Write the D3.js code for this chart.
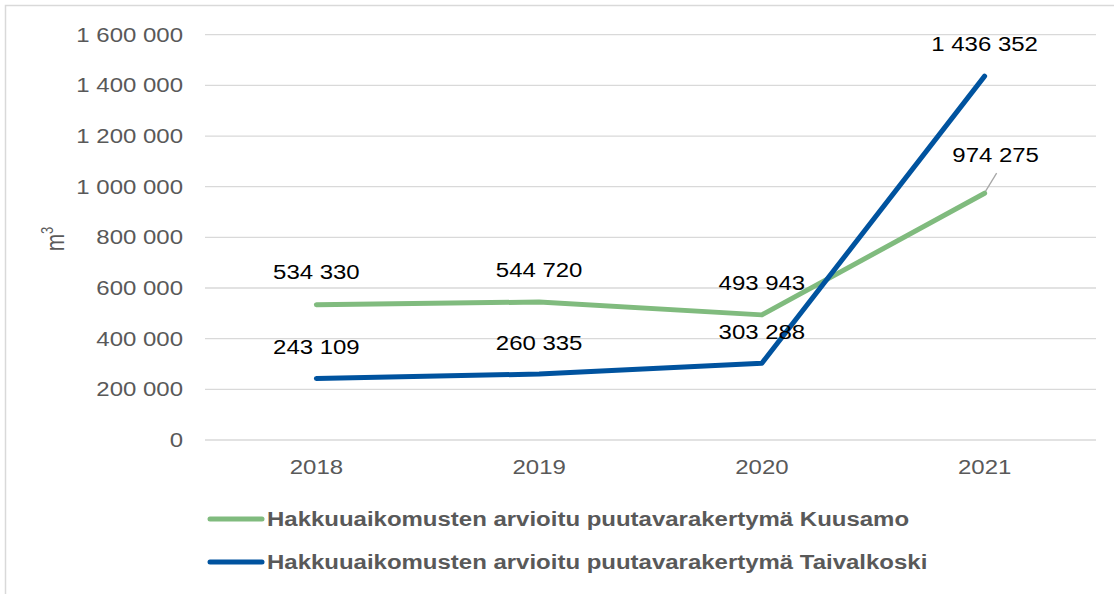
<!DOCTYPE html>
<html lang="fi">
<head>
<meta charset="UTF-8">
<script src="https://d3js.org/d3.v7.min.js"></script>
<style>
  body { margin: 0; background: #fff; }
  text { font-family: "Liberation Sans", Arial, sans-serif; }
</style>
</head>
<body>
<div id="chart"></div>
<script>
const years = ["2018", "2019", "2020", "2021"];
const kuusamo = [534330, 544720, 493943, 974275];
const taivalkoski = [243109, 260335, 303288, 1436352];
const yTicks = [0, 200000, 400000, 600000, 800000, 1000000, 1200000, 1400000, 1600000];
const seriesNames = [
  "Hakkuuaikomusten arvioitu puutavarakertymä Kuusamo",
  "Hakkuuaikomusten arvioitu puutavarakertymä Taivalkoski"
];

const width = 1114, height = 594;
const plot = { left: 205, right: 1096, top: 34.7, bottom: 440 };
const colors = ["#80bb7e", "#00539f"];
const sx = 1.23; // source image is stretched horizontally
const fs = 19.5;

const svg = d3.select("#chart").append("svg")
  .attr("width", width).attr("height", height);

// frame (only left/top visible)
svg.append("path")
  .attr("d", `M5.5,${height} V5.5 H${width}`)
  .attr("fill", "none").attr("stroke", "#d9d9d9").attr("stroke-width", 1.5);

const x = d3.scaleBand().domain(years).range([plot.left, plot.right]);
const y = d3.scaleLinear().domain([0, 1600000]).range([plot.bottom, plot.top]);
const fmt = v => d3.format(",")(v).replace(/,/g, " ");
const at = (px, py) => `translate(${px},${py}) scale(${sx},1)`;

// grid
svg.append("g").selectAll("line").data(yTicks).join("line")
  .attr("x1", plot.left).attr("x2", plot.right)
  .attr("y1", d => y(d)).attr("y2", d => y(d))
  .attr("stroke", "#d9d9d9").attr("stroke-width", 1.3);

// y tick labels
svg.append("g").selectAll("text").data(yTicks).join("text")
  .attr("transform", d => at(183, y(d))).attr("dy", "0.35em")
  .attr("text-anchor", "end").attr("font-size", fs).attr("fill", "#595959")
  .text(d => fmt(d));

// x labels
svg.append("g").selectAll("text").data(years).join("text")
  .attr("transform", d => at(x(d) + x.bandwidth() / 2, 467)).attr("dy", "0.35em")
  .attr("text-anchor", "middle").attr("font-size", fs).attr("fill", "#595959")
  .text(d => d);

// y axis title
const yt = svg.append("text")
  .attr("transform", "translate(64,239) rotate(-90) scale(1,1.22)")
  .attr("text-anchor", "middle").attr("font-size", 21).attr("fill", "#595959");
yt.append("tspan").text("m");
yt.append("tspan").attr("font-size", 13).attr("dy", -9).text("3");

const line = d3.line()
  .x((d, i) => x(years[i]) + x.bandwidth() / 2)
  .y(d => y(d));

const series = [kuusamo, taivalkoski];
series.forEach((s, k) => {
  svg.append("path").datum(s)
    .attr("d", line).attr("fill", "none")
    .attr("stroke", colors[k]).attr("stroke-width", 5)
    .attr("stroke-linecap", "round").attr("stroke-linejoin", "round");
});

// data labels
const cx = i => x(years[i]) + x.bandwidth() / 2;
const labels = [];
kuusamo.forEach((v, i) => {
  if (i < 3) labels.push({ x: cx(i), y: y(v) - 32, t: fmt(v) });
});
taivalkoski.forEach((v, i) => {
  if (i < 3) labels.push({ x: cx(i), y: y(v) - 31, t: fmt(v) });
});
labels.push({ x: cx(3), y: y(taivalkoski[3]) - 32, t: fmt(taivalkoski[3]) });
labels.push({ x: cx(3) + 11, y: y(kuusamo[3]) - 38, t: fmt(kuusamo[3]) });

svg.append("g").selectAll("text").data(labels).join("text")
  .attr("transform", d => at(d.x, d.y)).attr("dy", "0.35em")
  .attr("text-anchor", "middle").attr("font-size", fs).attr("fill", "#000")
  .text(d => d.t);

// leader line for 974 275
svg.append("line")
  .attr("x1", cx(3) + 1).attr("y1", y(kuusamo[3]) - 2)
  .attr("x2", cx(3) + 12).attr("y2", y(kuusamo[3]) - 20)
  .attr("stroke", "#a6a6a6").attr("stroke-width", 1.3);

// legend
const lg = svg.append("g").selectAll("g").data(seriesNames).join("g")
  .attr("transform", (d, i) => `translate(0,${519 + i * 43})`);
lg.append("line").attr("x1", 210).attr("x2", 262)
  .attr("stroke", (d, i) => colors[i]).attr("stroke-width", 5)
  .attr("stroke-linecap", "round");
lg.append("text").attr("transform", at(267, 0)).attr("dy", "0.35em")
  .attr("font-size", fs).attr("font-weight", "bold").attr("fill", "#595959")
  .text(d => d);
</script>
</body>
</html>
